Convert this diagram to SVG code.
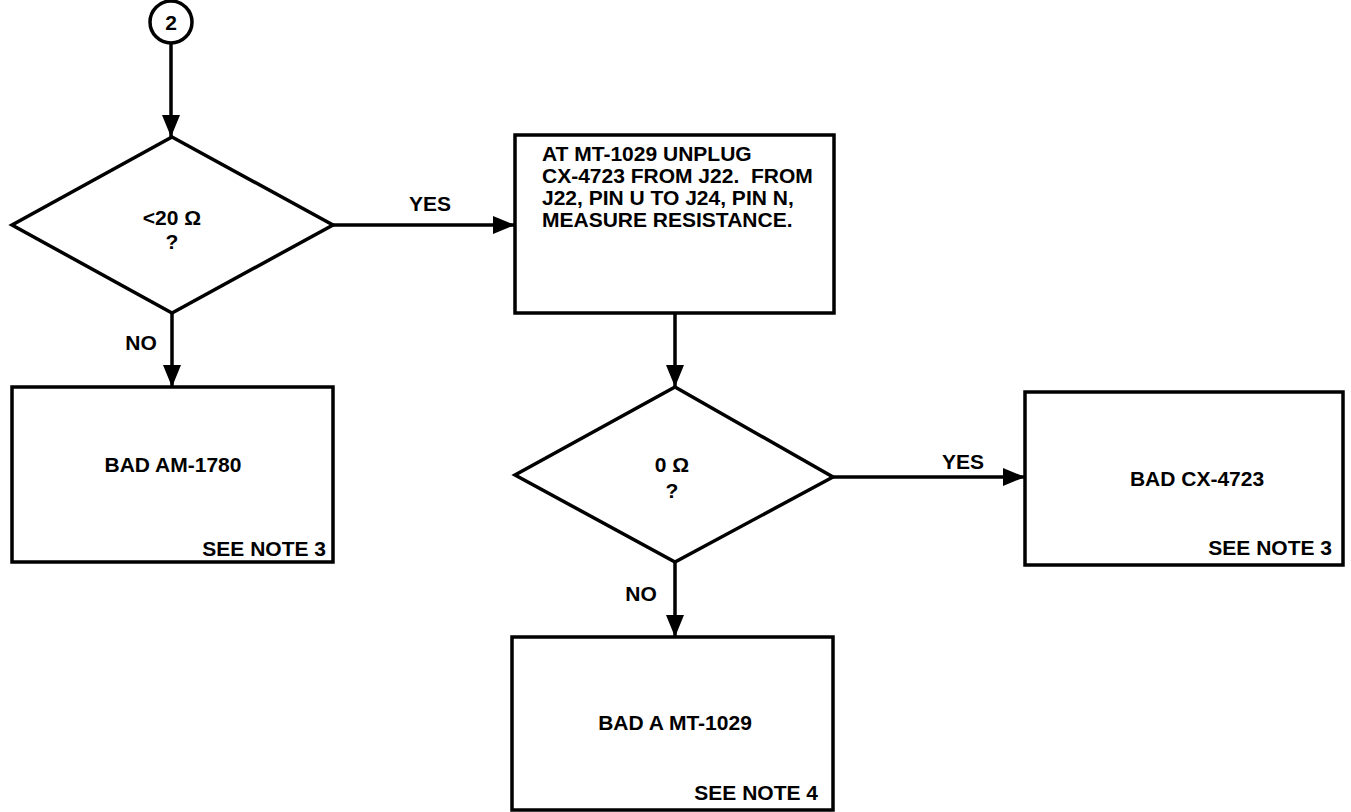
<svg xmlns="http://www.w3.org/2000/svg" width="1351" height="812" viewBox="0 0 1351 812">
<style>
  .shape { fill: #fff; stroke: #000; stroke-width: 3.5; stroke-linejoin: miter; }
  .conn { fill: none; stroke: #000; stroke-width: 3.5; }
  text { font-family: "Liberation Sans", Arial, sans-serif; font-weight: bold; font-size: 21px; fill: #000; }
  .c { text-anchor: middle; }
  .r { text-anchor: end; }
</style>
<defs>
  <marker id="arr" markerUnits="userSpaceOnUse" markerWidth="22" markerHeight="18" refX="22" refY="9" orient="auto">
    <path d="M0,0 L22,9 L0,18 Z" fill="#000"/>
  </marker>
</defs>
<rect width="1351" height="812" fill="#fff"/>
<g id="connectors">
  <line class="conn" x1="171" y1="43" x2="171" y2="137" marker-end="url(#arr)"/>
  <line class="conn" x1="172" y1="313" x2="172" y2="387" marker-end="url(#arr)"/>
  <line class="conn" x1="333" y1="225" x2="515" y2="225" marker-end="url(#arr)"/>
  <line class="conn" x1="675" y1="313" x2="675" y2="387" marker-end="url(#arr)"/>
  <line class="conn" x1="833" y1="477" x2="1025" y2="477" marker-end="url(#arr)"/>
  <line class="conn" x1="675" y1="562" x2="675" y2="637" marker-end="url(#arr)"/>
  <text class="c" x="430" y="211">YES</text>
  <text class="c" x="141" y="350">NO</text>
  <text class="c" x="963" y="469">YES</text>
  <text class="c" x="641" y="601">NO</text>
</g>
<g id="start">
  <circle class="shape" cx="171" cy="22" r="21"/>
  <text class="c" x="171" y="29.5">2</text>
</g>
<g id="decision1">
  <polygon class="shape" points="172,137 333,225 172,313 12,225"/>
  <text class="c" x="172" y="225">&lt;20 Ω</text>
  <text class="c" x="172" y="249">?</text>
</g>
<g id="box-am1780">
  <rect class="shape" x="12" y="387" width="321" height="175"/>
  <text class="c" x="173" y="472">BAD AM-1780</text>
  <text class="r" x="326" y="556">SEE NOTE 3</text>
</g>
<g id="box-measure">
  <rect class="shape" x="515" y="135" width="319" height="178"/>
  <text x="542" y="161">AT MT-1029 UNPLUG</text>
  <text x="542" y="183" xml:space="preserve">CX-4723 FROM J22.  FROM</text>
  <text x="542" y="205">J22, PIN U TO J24, PIN N,</text>
  <text x="542" y="227">MEASURE RESISTANCE.</text>
</g>
<g id="decision2">
  <polygon class="shape" points="675,387 833,477 675,562 515,475"/>
  <text class="c" x="672" y="472">0 Ω</text>
  <text class="c" x="672" y="498">?</text>
</g>
<g id="box-cx4723">
  <rect class="shape" x="1025" y="392" width="318" height="173"/>
  <text class="c" x="1197" y="486">BAD CX-4723</text>
  <text class="r" x="1332" y="555">SEE NOTE 3</text>
</g>
<g id="box-mt1029">
  <rect class="shape" x="512" y="637" width="321" height="173"/>
  <text class="c" x="675" y="730">BAD A MT-1029</text>
  <text class="r" x="818" y="800">SEE NOTE 4</text>
</g>
</svg>
